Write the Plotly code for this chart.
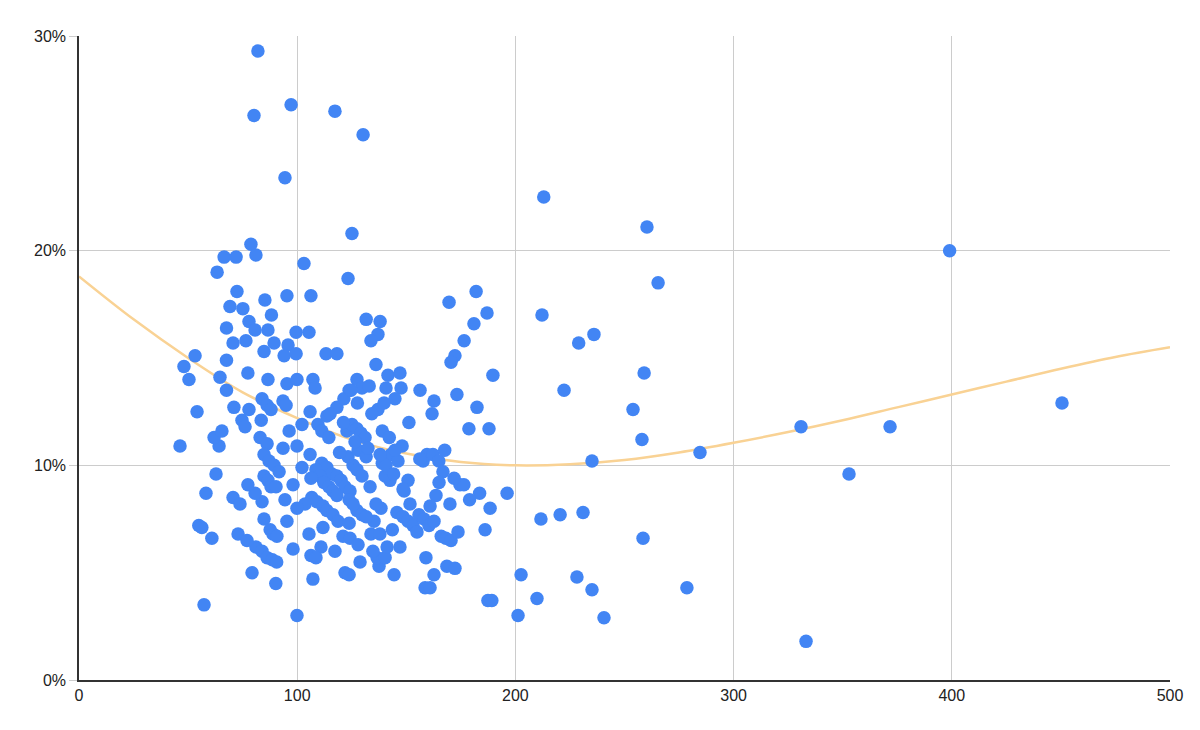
import plotly.graph_objects as go

x_vals = [
    82, 80.2, 97.2, 117.3, 130.2, 94.4, 213, 260.3, 125.1, 78.8, 81.1, 66.5, 72, 63.3, 103.1, 399,
    123.3, 265.4, 95.3, 106.3, 72.4, 85.2, 169.6, 182, 187, 212.2, 69.2, 75.1, 88.2, 77.9, 67.6,
    80.7, 86.6, 99.5, 105.4, 131.6, 138, 137, 133.8, 181, 176.5, 172.3, 170.5, 229, 236, 259, 189.7,
    70.6, 76.5, 89.4, 95.8, 94, 99.5, 113.2, 118.2, 53.2, 48.1, 50.4, 67.6, 84.8, 64.6, 77.4, 86.6,
    95.3, 99.9, 107.2, 108.2, 136.1, 141.6, 147.1, 127.4, 123.8, 129.7, 133, 140.7, 147.6, 144.8,
    156.3, 173.2, 222.3, 253.9, 258, 258.5, 284.6, 235.1, 330.9, 371.7, 352.9, 450.5, 333.2, 278.6,
    240.6, 235.1, 228.2, 231, 220.5, 211.7, 209.9, 202.6, 201.2, 196.2, 187.4, 189.2, 186.1, 188.4,
    183.6, 179, 174.6, 176.4, 182.4, 187.9, 178.7, 162.7, 161.8, 54.1, 46.3, 58.2, 57.3, 54.9, 56.3,
    60.9, 62.8, 64.2, 61.9, 65.5, 71, 67.6, 74.7, 76.1, 77.9, 83.5, 83.9, 86.2, 88, 93.5, 94.9, 96.3,
    102.2, 105.9, 83, 86.2, 84.8, 87.1, 89.4, 91.7, 93.5, 99.9, 102.2, 105.9, 109.5, 111.3, 114.5,
    113.6, 118.2, 121.4, 124.6, 122.8, 125.1, 127.4, 129.2, 131.1, 139, 142.2, 143, 148.1, 146.2,
    157.7, 159.5, 162.2, 164.9, 167.6, 166.8, 165, 163.6, 160.9, 150.8, 149, 151.7, 145.7, 148.5,
    150.8, 153.1, 154.9, 155.8, 158.1, 160.4, 162.7, 166, 168.1, 170.5, 168.6, 172.3, 173.7, 170,
    158.6, 160.9, 159, 162.7, 144.4, 137.5, 136.6, 140.3, 134.7, 141.2, 147.1, 133.8, 137.9, 143.6,
    135.2, 138.4, 136.1, 133.4, 142.5, 140.3, 139, 140.7, 144.8, 138, 111.3, 113.6, 115.9, 118.2,
    120.1, 121.9, 124.2, 108.6, 110.4, 112.2, 114.5, 116.4, 118.2, 106.3, 106.7, 109, 111.8, 113.6,
    116.4, 118.7, 125.6, 127.4, 129.7, 123.3, 127.9, 131.6, 132.4, 126.5, 127.4, 129.7, 131.6, 123.8,
    125.6, 123.8, 121, 124.2, 127.9, 128.8, 121.9, 123.8, 117.3, 111.8, 110.9, 105.4, 106.3, 108.6,
    107.2, 99.9, 90.2, 79.3, 81.1, 83.9, 86.2, 88.6, 90.6, 84.8, 87.6, 88.9, 90.7, 72.9, 77, 98.1,
    95.3, 103.6, 94.4, 83.9, 80.7, 77.4, 70.6, 73.8, 84.8, 86.6, 88, 90.3, 98.1, 99.9, 171.9, 151.2,
    137, 139.8, 134.2, 121.2, 127.6, 115.1, 156.2, 119.4, 144.2, 148.5,
]
y_vals = [
    29.3, 26.3, 26.8, 26.5, 25.4, 23.4, 22.5, 21.1, 20.8, 20.3, 19.8, 19.7, 19.7, 19.0, 19.4, 20.0,
    18.7, 18.5, 17.9, 17.9, 18.1, 17.7, 17.6, 18.1, 17.1, 17.0, 17.4, 17.3, 17.0, 16.7, 16.4,
    16.3, 16.3, 16.2, 16.2, 16.8, 16.7, 16.1, 15.8, 16.6, 15.8, 15.1, 14.8, 15.7, 16.1, 14.3, 14.2,
    15.7, 15.8, 15.7, 15.6, 15.1, 15.2, 15.2, 15.2, 15.1, 14.6, 14.0, 14.9, 15.3, 14.1, 14.3, 14.0,
    13.8, 14.0, 14.0, 13.6, 14.7, 14.2, 14.3, 14.0, 13.5, 13.6, 13.7, 13.6, 13.6, 13.1,
    13.5, 13.3, 13.5, 12.6, 11.2, 6.6, 10.6, 10.2, 11.8, 11.8, 9.6, 12.9, 1.8, 4.3,
    2.9, 4.2, 4.8, 7.8, 7.7, 7.5, 3.8, 4.9, 3.0, 8.7, 3.7, 3.7, 7.0, 8.0,
    8.7, 8.4, 9.1, 9.1, 12.7, 11.7, 11.7, 13.0, 12.4, 12.5, 10.9, 8.7, 3.5, 7.2, 7.1,
    6.6, 9.6, 10.9, 11.3, 11.6, 12.7, 13.5, 12.1, 11.8, 12.6, 12.1, 13.1, 12.8, 12.6, 13.0, 12.8, 11.6,
    11.9, 12.5, 11.3, 11.0, 10.5, 10.2, 10.0, 9.7, 10.8, 10.9, 9.9, 10.5, 11.9, 11.6, 11.3,
    12.3, 12.7, 13.1, 13.5, 11.6, 11.9, 11.7, 11.5, 11.3, 11.6, 11.3, 10.5, 10.9, 10.2,
    10.2, 10.5, 10.5, 10.2, 10.7, 9.7, 9.2, 8.6, 8.1, 9.3, 8.8, 8.2, 7.8, 7.6,
    7.4, 7.2, 6.9, 7.7, 7.5, 7.2, 7.4, 6.7, 6.6, 6.5, 5.3, 5.2, 6.9, 8.2,
    4.3, 4.3, 5.7, 4.9, 4.9, 5.3, 5.7, 5.7, 6.0, 6.2, 6.2, 6.8, 6.8, 7.0,
    7.4, 8.0, 8.2, 9.0, 9.3, 9.5, 10.1, 10.0, 10.7, 10.5, 10.1, 9.9, 9.6, 9.5,
    9.3, 9.0, 8.8, 9.8, 9.5, 9.2, 9.0, 8.8, 8.6, 9.4, 8.5, 8.3, 8.1, 7.9,
    7.7, 7.4, 10.0, 9.8, 9.5, 10.4, 10.7, 10.4, 10.8, 11.1, 7.9, 7.7, 7.6, 8.4,
    8.2, 7.3, 6.7, 6.6, 6.3, 5.5, 5.0, 4.9, 6.0, 7.1, 6.2, 6.8, 5.8, 5.7,
    4.7, 3.0, 4.5, 5.0, 6.2, 6.0, 5.7, 5.6, 5.5, 7.5, 7.0, 6.8, 6.7, 6.8, 6.5, 6.1,
    7.4, 8.2, 8.4, 8.3, 8.7, 9.1, 8.5, 8.2, 9.5, 9.3, 9.0, 9.0, 9.1, 8.0, 9.4, 12.0,
    12.6, 12.9, 12.4, 12.0, 12.9, 12.4, 10.3, 10.6, 9.6, 8.9,
]

trend_x = [0, 25, 50, 75, 100, 125, 150, 175, 200, 225, 250, 275, 300, 325, 350, 375, 400, 425, 450, 475, 500]
trend_y = [18.8, 16.8, 15.0, 13.4, 12.2, 11.2, 10.55, 10.15, 10.0, 10.05, 10.25, 10.6, 11.05, 11.55, 12.1, 12.7, 13.3, 13.9, 14.5, 15.05, 15.5]

x_ticks = [0, 100, 200, 300, 400, 500]
y_ticks = [0, 10, 20, 30]

n = min(len(x_vals), len(y_vals))

fig = go.Figure()
fig.add_trace(go.Scatter(
    x=trend_x, y=trend_y, mode="lines", line=dict(color="#f9d294", width=2.5, shape="spline", smoothing=1.0),
    hoverinfo="skip", showlegend=False,
))
fig.add_trace(go.Scatter(
    x=x_vals[:n], y=y_vals[:n], mode="markers",
    marker=dict(color="#4285f4", size=13.5, line=dict(width=0)),
    showlegend=False,
))

fig.update_layout(
    width=1200, height=730,
    margin=dict(l=71, r=38, t=28, b=58, autoexpand=False),
    paper_bgcolor="white", plot_bgcolor="white",
    font=dict(family="Liberation Sans, Arial, sans-serif", size=16, color="#222222"),
    showlegend=False,
)
fig.update_xaxes(
    range=[0, 500], tickvals=x_ticks, ticktext=[str(v) for v in x_ticks],
    showgrid=True, gridcolor="#cccccc", gridwidth=1,
    zeroline=False, showline=True, linecolor="#333333", linewidth=1.5,
    ticks="", ticklen=0, automargin=False,
)
fig.update_yaxes(
    range=[0, 30], tickvals=y_ticks, ticktext=[f"{v}%" for v in y_ticks],
    showgrid=True, gridcolor="#cccccc", gridwidth=1,
    zeroline=False, showline=True, linecolor="#333333", linewidth=1.5,
    ticks="outside", ticklen=8, tickcolor="#cccccc", tickwidth=1, automargin=False,
)

fig.write_html("out.html")
